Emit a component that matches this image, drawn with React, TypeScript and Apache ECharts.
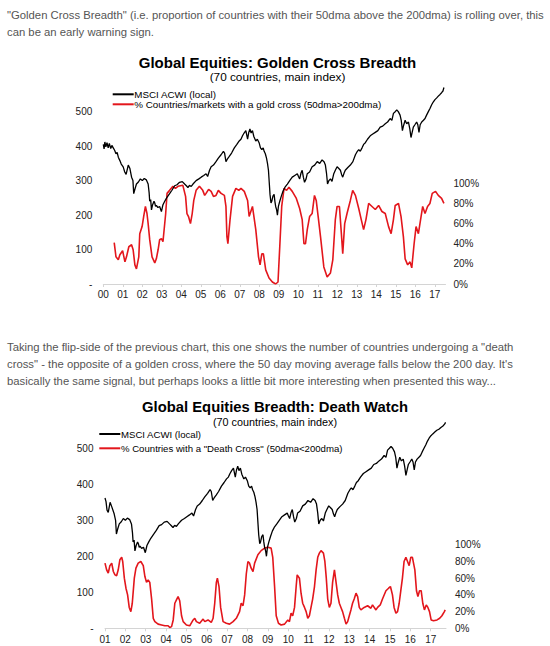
import React, { useEffect, useRef } from "react";
import * as echarts from "echarts";

// ---------- DATA ----------
const para1 = [
  "\"Golden Cross Breadth\" (i.e. proportion of countries with their 50dma above the 200dma) is rolling over, this",
  "can be an early warning sign.",
];
const para2 = [
  "Taking the flip-side of the previous chart, this one shows the number of countries undergoing a \"death",
  "cross\" - the opposite of a golden cross, where the 50 day moving average falls below the 200 day. It's",
  "basically the same signal, but perhaps looks a little bit more interesting when presented this way...",
];
const title1 = "Global Equities: Golden Cross Breadth";
const title2 = "Global Equities Breadth: Death Watch";
const subtitle = "(70 countries, main index)";
const nameAcwi = "MSCI ACWI (local)";
const nameGolden = "% Countries/markets with a gold cross (50dma>200dma)";
const nameDeath = "% Countries with a \"Death Cross\" (50dma<200dma)";

// MSCI ACWI (local) [year, index level] - chart 1
const acwiGolden: number[][] = [
  [2000.0, 405], [2000.04, 392], [2000.08, 412], [2000.13, 398], [2000.19, 410], [2000.25, 395], [2000.31, 408],
  [2000.38, 393], [2000.44, 402], [2000.51, 395], [2000.58, 388], [2000.65, 378], [2000.71, 382], [2000.77, 368],
  [2000.85, 358], [2000.92, 348], [2001.02, 340], [2001.1, 325], [2001.17, 318], [2001.28, 345], [2001.36, 336],
  [2001.45, 310], [2001.52, 300], [2001.56, 262], [2001.62, 275], [2001.7, 290], [2001.8, 296], [2001.9, 305],
  [2002.0, 300], [2002.1, 306], [2002.21, 302], [2002.3, 290], [2002.35, 265], [2002.38, 240], [2002.43, 245],
  [2002.47, 215], [2002.53, 230], [2002.6, 240], [2002.64, 235], [2002.68, 225], [2002.72, 228], [2002.8, 222],
  [2002.89, 225], [2002.98, 210], [2003.06, 230], [2003.15, 240], [2003.25, 250], [2003.4, 262], [2003.52, 272],
  [2003.66, 285], [2003.78, 288], [2003.91, 295], [2004.05, 297], [2004.17, 290], [2004.26, 285], [2004.34, 280],
  [2004.42, 286], [2004.51, 283], [2004.6, 290], [2004.76, 300], [2004.9, 305], [2005.02, 310], [2005.15, 315],
  [2005.27, 320], [2005.35, 312], [2005.45, 330], [2005.53, 340], [2005.65, 345], [2005.78, 355], [2005.9, 365],
  [2006.04, 375], [2006.16, 385], [2006.22, 380], [2006.29, 355], [2006.36, 362], [2006.46, 370], [2006.58, 380],
  [2006.72, 395], [2006.85, 405], [2006.97, 415], [2007.06, 420], [2007.14, 430], [2007.22, 438], [2007.31, 445],
  [2007.4, 420], [2007.46, 440], [2007.52, 450], [2007.58, 438], [2007.65, 445], [2007.72, 428], [2007.82, 415],
  [2007.9, 420], [2007.99, 410], [2008.06, 395], [2008.13, 390], [2008.2, 395], [2008.25, 385], [2008.31, 378],
  [2008.37, 365], [2008.42, 350], [2008.47, 330], [2008.51, 295], [2008.55, 260], [2008.6, 235], [2008.64, 240],
  [2008.7, 255], [2008.76, 260], [2008.8, 240], [2008.84, 225], [2008.89, 215], [2008.93, 200], [2008.98, 225],
  [2009.05, 240], [2009.13, 255], [2009.22, 270], [2009.33, 282], [2009.44, 290], [2009.56, 300], [2009.69, 310],
  [2009.82, 315], [2009.95, 320], [2010.01, 312], [2010.07, 305], [2010.14, 322], [2010.2, 330], [2010.26, 310],
  [2010.32, 295], [2010.4, 305], [2010.46, 320], [2010.58, 325], [2010.71, 340], [2010.84, 345], [2010.97, 355],
  [2011.1, 350], [2011.22, 360], [2011.32, 355], [2011.39, 345], [2011.45, 320], [2011.5, 290], [2011.57, 300],
  [2011.65, 305], [2011.73, 298], [2011.82, 320], [2011.9, 330], [2011.99, 340], [2012.08, 335], [2012.16, 330],
  [2012.22, 318], [2012.28, 310], [2012.35, 322], [2012.41, 330], [2012.54, 338], [2012.67, 345], [2012.8, 355],
  [2012.93, 375], [2013.03, 385], [2013.1, 390], [2013.18, 385], [2013.27, 395], [2013.35, 405], [2013.44, 410],
  [2013.55, 420], [2013.69, 430], [2013.82, 435], [2013.95, 440], [2014.08, 445], [2014.2, 455], [2014.33, 458],
  [2014.46, 465], [2014.58, 470], [2014.71, 480], [2014.8, 475], [2014.88, 495], [2014.97, 500], [2015.05, 505],
  [2015.13, 500], [2015.22, 490], [2015.28, 475], [2015.34, 445], [2015.4, 460], [2015.48, 475], [2015.56, 465],
  [2015.65, 470], [2015.72, 450], [2015.78, 425], [2015.84, 440], [2015.9, 455], [2015.98, 462], [2016.07, 470],
  [2016.13, 462], [2016.19, 440], [2016.25, 462], [2016.33, 470], [2016.42, 475], [2016.5, 480], [2016.58, 490],
  [2016.67, 500], [2016.76, 510], [2016.84, 520], [2016.92, 528], [2017.01, 535], [2017.1, 540], [2017.18, 545],
  [2017.27, 550], [2017.35, 555], [2017.42, 560], [2017.47, 570],
];

// % countries with golden cross [year, %] - chart 1
const goldenPct: number[][] = [
  [2000.56, 41], [2000.65, 27], [2000.77, 24], [2000.85, 29], [2000.99, 33], [2001.11, 22], [2001.19, 27],
  [2001.31, 37], [2001.45, 39], [2001.53, 34], [2001.62, 19], [2001.7, 15], [2001.82, 27], [2001.87, 50],
  [2001.99, 57], [2002.07, 67], [2002.16, 77], [2002.24, 70], [2002.3, 60], [2002.38, 44], [2002.5, 27],
  [2002.64, 21], [2002.72, 25], [2002.81, 34], [2002.89, 44], [2002.98, 45], [2003.06, 42], [2003.2, 70],
  [2003.27, 90], [2003.4, 93], [2003.57, 97], [2003.7, 95], [2003.83, 97], [2004.08, 98], [2004.22, 87],
  [2004.29, 70], [2004.37, 67], [2004.47, 60], [2004.56, 70], [2004.64, 83], [2004.76, 93], [2004.93, 97],
  [2005.1, 93], [2005.2, 88], [2005.27, 90], [2005.4, 94], [2005.53, 92], [2005.65, 87], [2005.78, 88],
  [2005.9, 93], [2006.04, 90], [2006.21, 88], [2006.29, 77], [2006.34, 47], [2006.39, 40], [2006.5, 64],
  [2006.63, 87], [2006.8, 95], [2006.95, 93], [2007.06, 95], [2007.23, 92], [2007.4, 83], [2007.48, 67],
  [2007.65, 77], [2007.82, 54], [2007.96, 27], [2008.04, 19], [2008.13, 30], [2008.21, 30], [2008.33, 14],
  [2008.5, 6], [2008.67, 2], [2008.84, 0], [2008.96, 2], [2009.05, 37], [2009.15, 77], [2009.27, 95],
  [2009.4, 93], [2009.52, 96], [2009.69, 92], [2009.9, 85], [2010.07, 75], [2010.2, 64], [2010.29, 40],
  [2010.37, 40], [2010.46, 54], [2010.58, 67], [2010.71, 70], [2010.83, 88], [2010.92, 83], [2011.02, 67],
  [2011.14, 47], [2011.31, 17], [2011.48, 7], [2011.65, 11], [2011.77, 24], [2011.9, 64], [2011.99, 77],
  [2012.11, 77], [2012.21, 50], [2012.28, 30], [2012.38, 60], [2012.5, 70], [2012.67, 83], [2012.79, 93],
  [2012.93, 88], [2013.1, 75], [2013.23, 64], [2013.35, 54], [2013.47, 64], [2013.61, 80], [2013.78, 77],
  [2013.95, 74], [2014.12, 78], [2014.29, 72], [2014.46, 70], [2014.63, 57], [2014.76, 50], [2014.88, 64],
  [2014.97, 78], [2015.14, 80], [2015.27, 67], [2015.39, 47], [2015.48, 25], [2015.61, 19], [2015.73, 22],
  [2015.82, 16], [2015.94, 40], [2016.04, 57], [2016.16, 50], [2016.24, 60], [2016.38, 77], [2016.5, 70],
  [2016.63, 77], [2016.75, 80], [2016.87, 90], [2017.04, 92], [2017.18, 88], [2017.35, 85], [2017.47, 80],
];

// MSCI ACWI (local) - chart 2 head and tail (middle section shared with chart 1 reading)
const acwiDeathHead: number[][] = [
  [2001.0, 362], [2001.05, 352], [2001.1, 328], [2001.16, 322], [2001.25, 350], [2001.33, 338], [2001.45, 318],
];
const acwiDeathTail: number[][] = [
  [2017.1, 540], [2017.2, 545], [2017.3, 550], [2017.4, 553], [2017.5, 558], [2017.6, 562], [2017.68, 567],
  [2017.73, 572],
];

// % countries with death cross [year, %] - chart 2
const deathPct: number[][] = [
  [2001.0, 78], [2001.08, 70], [2001.16, 66], [2001.24, 75], [2001.33, 78], [2001.41, 68], [2001.49, 64],
  [2001.57, 63], [2001.65, 70], [2001.73, 82], [2001.82, 85], [2001.87, 80], [2001.95, 60], [2002.03, 48],
  [2002.11, 40], [2002.19, 25], [2002.27, 20], [2002.34, 30], [2002.44, 60], [2002.52, 72], [2002.63, 78],
  [2002.76, 80], [2002.88, 75], [2002.96, 62], [2003.04, 55], [2003.12, 58], [2003.2, 55], [2003.29, 35],
  [2003.37, 12], [2003.45, 8], [2003.61, 5], [2003.78, 4], [2003.94, 3], [2004.1, 3], [2004.18, 1],
  [2004.27, 2], [2004.35, 10], [2004.43, 30], [2004.51, 34], [2004.59, 38], [2004.67, 33], [2004.76, 15],
  [2004.84, 8], [2005.0, 4], [2005.16, 3], [2005.33, 10], [2005.41, 12], [2005.49, 8], [2005.65, 6],
  [2005.82, 11], [2005.9, 8], [2006.06, 10], [2006.22, 7], [2006.31, 12], [2006.39, 30], [2006.47, 55],
  [2006.52, 60], [2006.6, 50], [2006.68, 25], [2006.8, 8], [2006.96, 6], [2007.12, 5], [2007.29, 8],
  [2007.45, 12], [2007.61, 20], [2007.69, 30], [2007.78, 27], [2007.86, 40], [2007.94, 65], [2008.02, 80],
  [2008.1, 78], [2008.18, 72], [2008.27, 68], [2008.35, 78], [2008.51, 88], [2008.67, 93], [2008.84, 96],
  [2009.0, 97], [2009.16, 96], [2009.24, 85], [2009.33, 50], [2009.41, 15], [2009.52, 6], [2009.65, 4],
  [2009.82, 5], [2009.98, 10], [2010.06, 8], [2010.14, 18], [2010.22, 15], [2010.31, 25], [2010.39, 50],
  [2010.44, 64], [2010.55, 60], [2010.63, 42], [2010.71, 30], [2010.8, 25], [2010.88, 20], [2010.96, 12],
  [2011.04, 15], [2011.12, 25], [2011.2, 35], [2011.29, 50], [2011.37, 70], [2011.45, 85], [2011.53, 90],
  [2011.61, 93], [2011.73, 90], [2011.8, 80], [2011.87, 60], [2011.94, 35], [2012.02, 25], [2012.1, 30],
  [2012.18, 55], [2012.27, 70], [2012.35, 55], [2012.43, 40], [2012.51, 30], [2012.59, 25], [2012.67, 20],
  [2012.76, 12], [2012.84, 5], [2012.92, 8], [2013.0, 15], [2013.08, 22], [2013.16, 30], [2013.24, 35],
  [2013.33, 42], [2013.41, 38], [2013.49, 25], [2013.57, 22], [2013.73, 25], [2013.9, 27], [2014.06, 24],
  [2014.14, 28], [2014.31, 22], [2014.39, 25], [2014.52, 28], [2014.63, 35], [2014.8, 45], [2014.93, 48],
  [2015.02, 50], [2015.12, 40], [2015.2, 25], [2015.29, 18], [2015.37, 20], [2015.45, 30], [2015.53, 45],
  [2015.61, 60], [2015.69, 80], [2015.78, 85], [2015.86, 80], [2015.94, 75], [2016.02, 85], [2016.1, 85],
  [2016.22, 70], [2016.3, 45], [2016.37, 38], [2016.45, 45], [2016.53, 45], [2016.61, 30], [2016.69, 22],
  [2016.78, 28], [2016.86, 25], [2016.94, 20], [2017.02, 10], [2017.14, 9], [2017.31, 10], [2017.44, 12],
  [2017.55, 15], [2017.67, 20], [2017.71, 22],
];

const acwiDeath: number[][] = acwiDeathHead
  .concat(acwiGolden.filter((p) => p[0] >= 2001.5 && p[0] < 2017.05))
  .concat(acwiDeathTail);

// ---------- STYLE ----------
const FONT = "'Liberation Sans', Arial, Helvetica, sans-serif";
const RED = "#e3161c";
const BLACK = "#000000";
const AXIS_GREY = "#d4d4d4";
const LABEL = "#222222";

const isInt = (v: number) => Math.abs(v - Math.round(v)) < 1e-6;
const yearFmt = (v: number) => (isInt(v) ? String(Math.round(v) % 100).padStart(2, "0") : "");
const leftFmt = (v: number) => (v === 0 ? "-" : v <= 500 ? String(v) : "");
const pctFmt = (v: number) => (v <= 100 && isInt(v) ? `${v}%` : "");

function makeXAxis(gridIndex: number, min: number, max: number, margin: number) {
  return {
    type: "value",
    gridIndex,
    min,
    max,
    interval: 1,
    axisLine: { show: true, lineStyle: { color: AXIS_GREY, width: 1 } },
    axisTick: { show: true, length: 3, lineStyle: { color: AXIS_GREY } },
    splitLine: { show: false },
    axisLabel: { formatter: yearFmt, fontSize: 10, color: LABEL, fontFamily: FONT, margin, showMaxLabel: false },
  };
}

function makeLeftAxis(gridIndex: number, margin: number) {
  return {
    type: "value",
    gridIndex,
    position: "left",
    min: 0,
    max: 600,
    interval: 100,
    axisLine: { show: false },
    axisTick: { show: false },
    splitLine: { show: false },
    axisLabel: { formatter: leftFmt, fontSize: 10, color: LABEL, fontFamily: FONT, margin },
  };
}

function makeRightAxis(gridIndex: number, max: number, margin: number) {
  return {
    type: "value",
    gridIndex,
    position: "right",
    min: 0,
    max,
    interval: 20,
    axisLine: { show: false },
    axisTick: { show: false },
    splitLine: { show: false },
    axisLabel: { formatter: pctFmt, fontSize: 10, color: LABEL, fontFamily: FONT, margin, showMaxLabel: false },
  };
}

function textEl(x: number, y: number, text: string, size: number, opts: any = {}) {
  return {
    type: "text",
    x,
    y,
    silent: true,
    style: {
      text,
      fontSize: size,
      fontFamily: FONT,
      fill: opts.fill || "#000",
      fontWeight: opts.bold ? "bold" : "normal",
      align: opts.align || "left",
      verticalAlign: "middle",
    },
  };
}

function legendLine(x: number, y: number, w: number, color: string) {
  return {
    type: "line",
    silent: true,
    shape: { x1: x, y1: y, x2: x + w, y2: y },
    style: { stroke: color, lineWidth: 2 },
  };
}

export default function App() {
  const ref = useRef<HTMLDivElement>(null);

  useEffect(() => {
    if (!ref.current) return;
    const chart = echarts.init(ref.current, null, { renderer: "svg" });

    const graphics: any[] = [];
    para1.forEach((t, i) => graphics.push(textEl(7, 15 + i * 17.3, t, 11.3, { fill: "#555" })));
    para2.forEach((t, i) => graphics.push(textEl(7, 347 + i * 17, t, 11.3, { fill: "#555" })));
    graphics.push(textEl(277.5, 62.3, title1, 15, { bold: true, align: "center" }));
    graphics.push(textEl(277.5, 77.3, subtitle, 11.8, { align: "center" }));
    graphics.push(legendLine(112.7, 94.3, 21, BLACK));
    graphics.push(legendLine(112.7, 104.3, 21, RED));
    graphics.push(textEl(134.3, 94.3, nameAcwi, 9.8));
    graphics.push(textEl(134.3, 104.3, nameGolden, 9.8));

    graphics.push(textEl(275, 406.7, title2, 14.8, { bold: true, align: "center" }));
    graphics.push(textEl(275, 422.3, subtitle, 10.8, { align: "center" }));
    graphics.push(legendLine(99.3, 434, 21, BLACK));
    graphics.push(legendLine(99.3, 448.3, 21, RED));
    graphics.push(textEl(121, 434, nameAcwi, 9.6));
    graphics.push(textEl(121, 448.3, nameDeath, 9.6));

    chart.setOption({
      animation: false,
      backgroundColor: "#ffffff",
      textStyle: { fontFamily: FONT },
      grid: [
        { left: 103.3, top: 77.2, width: 342.2, height: 206.8, containLabel: false },
        { left: 105, top: 412.3, width: 341, height: 216, containLabel: false },
      ],
      xAxis: [makeXAxis(0, 2000, 2017.55, 5), makeXAxis(1, 2001, 2017.75, 6)],
      yAxis: [
        makeLeftAxis(0, 11),
        makeRightAxis(0, 205.4, 8),
        makeLeftAxis(1, 11.5),
        makeRightAxis(1, 258.6, 9),
      ],
      series: [
        {
          name: nameGolden,
          type: "line",
          xAxisIndex: 0,
          yAxisIndex: 1,
          data: goldenPct,
          showSymbol: false,
          symbol: "none",
          lineStyle: { color: RED, width: 1.6 },
          itemStyle: { color: RED },
          z: 2,
        },
        {
          name: nameAcwi,
          type: "line",
          xAxisIndex: 0,
          yAxisIndex: 0,
          data: acwiGolden,
          showSymbol: false,
          symbol: "none",
          lineStyle: { color: BLACK, width: 1.3 },
          itemStyle: { color: BLACK },
          z: 3,
        },
        {
          name: nameDeath,
          type: "line",
          xAxisIndex: 1,
          yAxisIndex: 3,
          data: deathPct,
          showSymbol: false,
          symbol: "none",
          lineStyle: { color: RED, width: 1.6 },
          itemStyle: { color: RED },
          z: 2,
        },
        {
          name: nameAcwi,
          type: "line",
          xAxisIndex: 1,
          yAxisIndex: 2,
          data: acwiDeath,
          showSymbol: false,
          symbol: "none",
          lineStyle: { color: BLACK, width: 1.3 },
          itemStyle: { color: BLACK },
          z: 3,
        },
      ],
      graphic: graphics,
    });

    return () => chart.dispose();
  }, []);

  return (
    <div
      ref={ref}
      style={{ position: "fixed", left: 0, top: 0, width: 550, height: 646, background: "#fff" }}
    />
  );
}
